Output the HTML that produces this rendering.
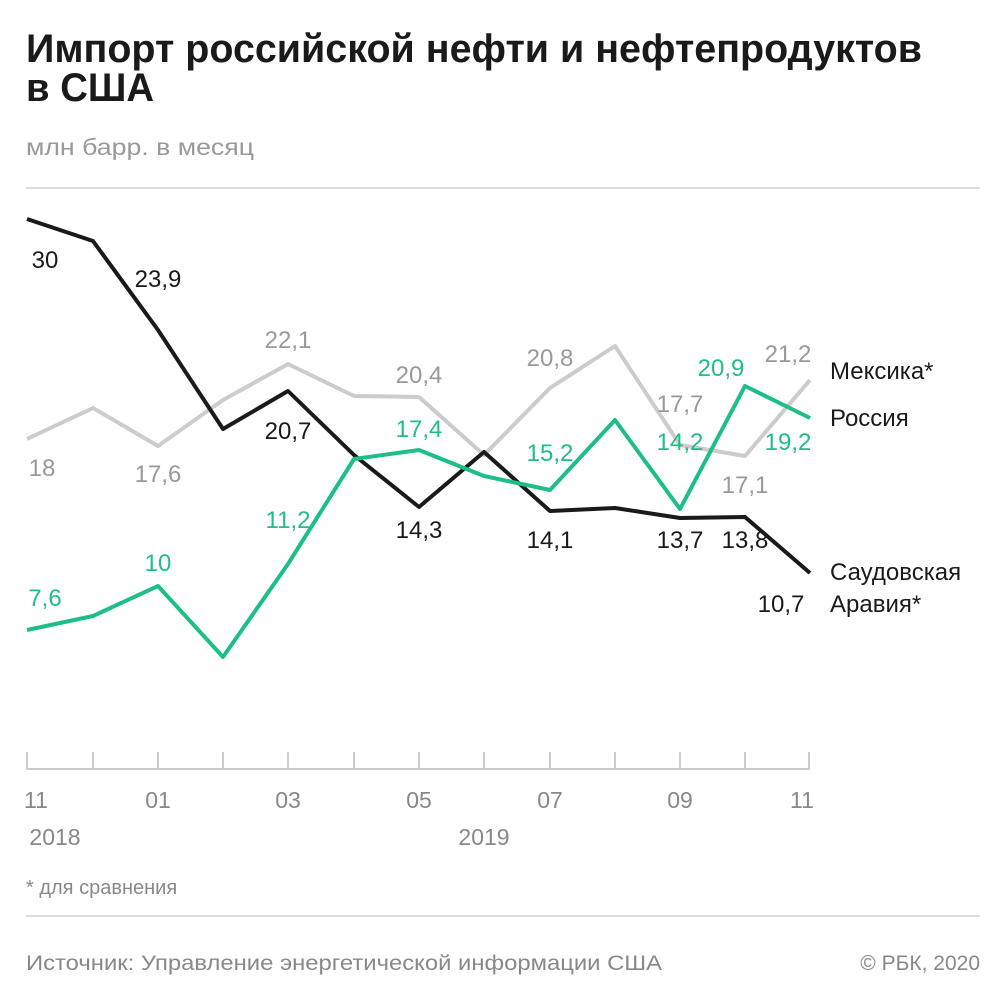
<!DOCTYPE html>
<html><head><meta charset="utf-8"><style>body{margin:0;background:#fff}svg{display:block}</style></head><body>
<svg width="1005" height="1005" xmlns="http://www.w3.org/2000/svg" font-family="Liberation Sans, sans-serif">
<text x="26" y="62" font-size="40" font-weight="bold" fill="#1a1a1a" font-family="Liberation Sans Narrow, Liberation Sans, sans-serif" textLength="896" lengthAdjust="spacingAndGlyphs">Импорт российской нефти и нефтепродуктов</text>
<text x="26" y="101" font-size="40" font-weight="bold" fill="#1a1a1a" font-family="Liberation Sans Narrow, Liberation Sans, sans-serif" textLength="128" lengthAdjust="spacingAndGlyphs">в США</text>
<text x="26" y="155" font-size="23" fill="#999" textLength="228" lengthAdjust="spacingAndGlyphs">млн барр. в месяц</text>
<line x1="26" y1="188" x2="980" y2="188" stroke="#ddd" stroke-width="2"/>
<line x1="26" y1="769" x2="810" y2="769" stroke="#ccc" stroke-width="2"/>
<g stroke="#ccc" stroke-width="2">
<line x1="27" y1="752" x2="27" y2="769"/><line x1="93" y1="752" x2="93" y2="769"/><line x1="158" y1="752" x2="158" y2="769"/><line x1="223" y1="752" x2="223" y2="769"/><line x1="288" y1="752" x2="288" y2="769"/><line x1="354" y1="752" x2="354" y2="769"/><line x1="419" y1="752" x2="419" y2="769"/><line x1="484" y1="752" x2="484" y2="769"/><line x1="550" y1="752" x2="550" y2="769"/><line x1="615" y1="752" x2="615" y2="769"/><line x1="680" y1="752" x2="680" y2="769"/><line x1="745" y1="752" x2="745" y2="769"/><line x1="809" y1="752" x2="809" y2="769"/>
</g>
<g font-size="23" fill="#888" text-anchor="middle">
<text x="36" y="808">11</text><text x="158" y="808">01</text><text x="288" y="808">03</text><text x="419" y="808">05</text><text x="550" y="808">07</text><text x="680" y="808">09</text><text x="802" y="808">11</text>
<text x="55" y="845">2018</text><text x="484" y="845">2019</text>
</g>
<g fill="none" stroke-width="4" stroke-linejoin="round">
<polyline stroke="#cccccc" points="27,439 93,408 158,446 223,400 288,364 354,396 419,397 484,455 550,388 615,346 680,445 745,456 810,380"/>
<polyline stroke="#1a1a1a" points="27,219 93,241 158,330 223,429 288,391 354,455 419,507 484,452 550,511 615,508 680,518 745,517 810,573"/>
<polyline stroke="#1dbe8a" points="27,630 93,616 158,586 223,657 288,564 354,459 419,450 484,476 550,490 615,420 680,509 745,386 810,418"/>
</g>
<g font-size="24" fill="#999" text-anchor="middle">
<text x="42" y="476">18</text><text x="158" y="482">17,6</text><text x="288" y="348">22,1</text><text x="419" y="383">20,4</text><text x="550" y="366">20,8</text><text x="680" y="412">17,7</text><text x="745" y="493">17,1</text><text x="788" y="362">21,2</text>
</g>
<g font-size="24" fill="#1a1a1a" text-anchor="middle">
<text x="45" y="268">30</text><text x="158" y="287">23,9</text><text x="288" y="439">20,7</text><text x="419" y="538">14,3</text><text x="550" y="548">14,1</text><text x="680" y="548">13,7</text><text x="745" y="548">13,8</text><text x="781" y="612">10,7</text>
</g>
<g font-size="24" fill="#1dbe8a" text-anchor="middle">
<text x="45" y="606">7,6</text><text x="158" y="571">10</text><text x="288" y="528">11,2</text><text x="419" y="437">17,4</text><text x="550" y="461">15,2</text><text x="680" y="450">14,2</text><text x="721" y="376">20,9</text><text x="788" y="450">19,2</text>
</g>
<g font-size="24" fill="#1a1a1a">
<text x="830" y="379">Мексика*</text><text x="830" y="426">Россия</text><text x="830" y="580">Саудовская</text><text x="830" y="612">Аравия*</text>
</g>
<text x="26" y="894" font-size="20" fill="#888">* для сравнения</text>
<line x1="26" y1="916" x2="980" y2="916" stroke="#ddd" stroke-width="2"/>
<text x="26" y="970" font-size="21" fill="#888" textLength="636" lengthAdjust="spacingAndGlyphs">Источник: Управление энергетической информации США</text>
<text x="980" y="970" font-size="21" fill="#888" text-anchor="end">© РБК, 2020</text>
</svg>
</body></html>
